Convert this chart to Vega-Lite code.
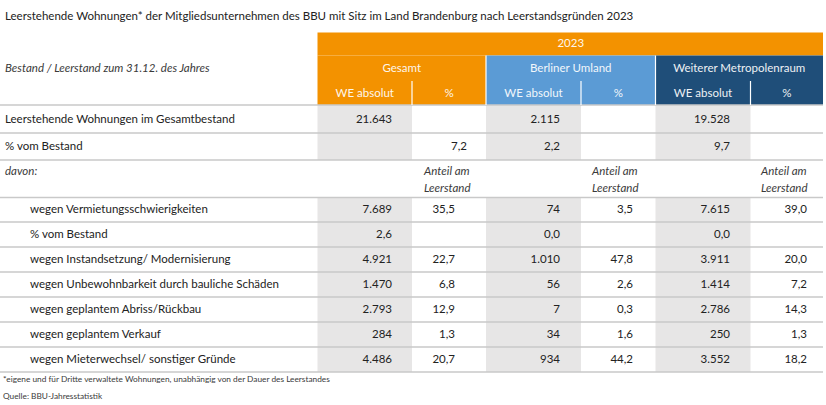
{
  "$schema": "https://vega.github.io/schema/vega-lite/v6.json",
  "width": 826,
  "height": 405,
  "padding": 0,
  "autosize": {"type": "none"},
  "background": "white",
  "config": {
    "view": {"stroke": null},
    "font": "Lato",
    "locale": {"number": {"decimal": ",", "thousands": ".", "grouping": [3], "currency": ["", " €"]}}
  },
  "datasets": {
    "blocks": [
      {"block": "2023", "x0": 0.5, "x1": 6.5, "y0": 0.5, "y1": 1.5},
      {"block": "Gesamt", "x0": 0.5, "x1": 2.5, "y0": 1.5, "y1": 3.5},
      {"block": "Berliner Umland", "x0": 2.5, "x1": 4.5, "y0": 1.5, "y1": 3.5},
      {"block": "Weiterer Metropolenraum", "x0": 4.5, "x1": 6.5, "y0": 1.5, "y1": 3.5},
      {"block": "WE absolut", "x0": 0.5, "x1": 1.5, "y0": 3.5, "y1": 5.5},
      {"block": "WE absolut", "x0": 2.5, "x1": 3.5, "y0": 3.5, "y1": 5.5},
      {"block": "WE absolut", "x0": 4.5, "x1": 5.5, "y0": 3.5, "y1": 5.5},
      {"block": "WE absolut", "x0": 0.5, "x1": 1.5, "y0": 7.5, "y1": 14.5},
      {"block": "WE absolut", "x0": 2.5, "x1": 3.5, "y0": 7.5, "y1": 14.5},
      {"block": "WE absolut", "x0": 4.5, "x1": 5.5, "y0": 7.5, "y1": 14.5}
    ],
    "hlines": [
      {"below": 3.5}, {"below": 4.5}, {"below": 5.5}, {"below": 7.5}, {"below": 8.5},
      {"below": 9.5}, {"below": 10.5}, {"below": 11.5}, {"below": 12.5}, {"below": 13.5}, {"below": 14.5}
    ],
    "vlines": [
      {"at": 1.5, "from": 2.5, "to": 3.5},
      {"at": 3.5, "from": 2.5, "to": 3.5},
      {"at": 5.5, "from": 2.5, "to": 3.5},
      {"at": 2.5, "from": 1.5, "to": 3.5},
      {"at": 4.5, "from": 1.5, "to": 3.5}
    ],
    "headers": [
      {"text": "2023", "col": 3.5, "row": 1},
      {"text": "Gesamt", "col": 1.5, "row": 2},
      {"text": "Berliner Umland", "col": 3.5, "row": 2},
      {"text": "Weiterer Metropolenraum", "col": 5.5, "row": 2},
      {"text": "WE absolut", "col": 1, "row": 3},
      {"text": "%", "col": 2, "row": 3},
      {"text": "WE absolut", "col": 3, "row": 3},
      {"text": "%", "col": 4, "row": 3},
      {"text": "WE absolut", "col": 5, "row": 3},
      {"text": "%", "col": 6, "row": 3}
    ],
    "stub": [
      {"text": "Leerstehende Wohnungen* der Mitgliedsunternehmen des BBU mit Sitz im Land Brandenburg nach Leerstandsgründen 2023", "row": 0, "level": 0, "kind": "title"},
      {"text": "Bestand / Leerstand zum 31.12. des Jahres", "row": 2, "level": 0, "kind": "note"},
      {"text": "Leerstehende Wohnungen im Gesamtbestand", "row": 4, "level": 0, "kind": "item"},
      {"text": "% vom Bestand", "row": 5, "level": 0, "kind": "item"},
      {"text": "davon:", "row": 6, "level": 0, "kind": "note"},
      {"text": "wegen Vermietungsschwierigkeiten", "row": 8, "level": 1, "kind": "item"},
      {"text": "% vom Bestand", "row": 9, "level": 1, "kind": "item"},
      {"text": "wegen Instandsetzung/ Modernisierung", "row": 10, "level": 1, "kind": "item"},
      {"text": "wegen Unbewohnbarkeit durch bauliche Schäden", "row": 11, "level": 1, "kind": "item"},
      {"text": "wegen geplantem Abriss/Rückbau", "row": 12, "level": 1, "kind": "item"},
      {"text": "wegen geplantem Verkauf", "row": 13, "level": 1, "kind": "item"},
      {"text": "wegen Mieterwechsel/ sonstiger Gründe", "row": 14, "level": 1, "kind": "item"},
      {"text": "*eigene und für Dritte verwaltete Wohnungen, unabhängig von der Dauer des Leerstandes", "row": 15, "level": 0, "kind": "footnote"},
      {"text": "Quelle: BBU-Jahresstatistik", "row": 16, "level": 0, "kind": "footnote"}
    ],
    "anteil": [
      {"text": "Anteil am", "row": 6, "col": 2},
      {"text": "Leerstand", "row": 7, "col": 2},
      {"text": "Anteil am", "row": 6, "col": 4},
      {"text": "Leerstand", "row": 7, "col": 4},
      {"text": "Anteil am", "row": 6, "col": 6},
      {"text": "Leerstand", "row": 7, "col": 6}
    ],
    "cells": [
      {"row": 4, "col": 1, "value": 21643, "unit": "WE"},
      {"row": 4, "col": 3, "value": 2115, "unit": "WE"},
      {"row": 4, "col": 5, "value": 19528, "unit": "WE"},
      {"row": 5, "col": 2, "value": 7.2, "unit": "%"},
      {"row": 5, "col": 3, "value": 2.2, "unit": "%"},
      {"row": 5, "col": 5, "value": 9.7, "unit": "%"},
      {"row": 8, "col": 1, "value": 7689, "unit": "WE"},
      {"row": 8, "col": 2, "value": 35.5, "unit": "%"},
      {"row": 8, "col": 3, "value": 74, "unit": "WE"},
      {"row": 8, "col": 4, "value": 3.5, "unit": "%"},
      {"row": 8, "col": 5, "value": 7615, "unit": "WE"},
      {"row": 8, "col": 6, "value": 39.0, "unit": "%"},
      {"row": 9, "col": 1, "value": 2.6, "unit": "%"},
      {"row": 9, "col": 3, "value": 0.0, "unit": "%"},
      {"row": 9, "col": 5, "value": 0.0, "unit": "%"},
      {"row": 10, "col": 1, "value": 4921, "unit": "WE"},
      {"row": 10, "col": 2, "value": 22.7, "unit": "%"},
      {"row": 10, "col": 3, "value": 1010, "unit": "WE"},
      {"row": 10, "col": 4, "value": 47.8, "unit": "%"},
      {"row": 10, "col": 5, "value": 3911, "unit": "WE"},
      {"row": 10, "col": 6, "value": 20.0, "unit": "%"},
      {"row": 11, "col": 1, "value": 1470, "unit": "WE"},
      {"row": 11, "col": 2, "value": 6.8, "unit": "%"},
      {"row": 11, "col": 3, "value": 56, "unit": "WE"},
      {"row": 11, "col": 4, "value": 2.6, "unit": "%"},
      {"row": 11, "col": 5, "value": 1414, "unit": "WE"},
      {"row": 11, "col": 6, "value": 7.2, "unit": "%"},
      {"row": 12, "col": 1, "value": 2793, "unit": "WE"},
      {"row": 12, "col": 2, "value": 12.9, "unit": "%"},
      {"row": 12, "col": 3, "value": 7, "unit": "WE"},
      {"row": 12, "col": 4, "value": 0.3, "unit": "%"},
      {"row": 12, "col": 5, "value": 2786, "unit": "WE"},
      {"row": 12, "col": 6, "value": 14.3, "unit": "%"},
      {"row": 13, "col": 1, "value": 284, "unit": "WE"},
      {"row": 13, "col": 2, "value": 1.3, "unit": "%"},
      {"row": 13, "col": 3, "value": 34, "unit": "WE"},
      {"row": 13, "col": 4, "value": 1.6, "unit": "%"},
      {"row": 13, "col": 5, "value": 250, "unit": "WE"},
      {"row": 13, "col": 6, "value": 1.3, "unit": "%"},
      {"row": 14, "col": 1, "value": 4486, "unit": "WE"},
      {"row": 14, "col": 2, "value": 20.7, "unit": "%"},
      {"row": 14, "col": 3, "value": 934, "unit": "WE"},
      {"row": 14, "col": 4, "value": 44.2, "unit": "%"},
      {"row": 14, "col": 5, "value": 3552, "unit": "WE"},
      {"row": 14, "col": 6, "value": 18.2, "unit": "%"}
    ]
  },
  "layer": [
    {
      "data": {"name": "blocks"},
      "mark": {"type": "rect", "strokeWidth": 0},
      "encoding": {
        "x": {"field": "x0", "type": "quantitative", "axis": null, "scale": {"domain": [-0.5, 0.5, 1.5, 2.5, 3.5, 4.5, 5.5, 6.5], "range": [0, 317.5, 412, 486, 581, 655.5, 750.5, 823], "nice": false, "zero": false}},
        "x2": {"field": "x1"},
        "y": {"field": "y0", "type": "quantitative", "axis": null, "scale": {"domain": [0.5, 1.5, 2.5, 3.5, 4.5, 5.5, 7.5, 8.5, 9.5, 10.5, 11.5, 12.5, 13.5, 14.5], "range": [32.5, 55.5, 81, 105, 133, 160, 197.5, 222, 247, 272, 297, 322, 347, 372], "nice": false, "zero": false}},
        "y2": {"field": "y1"},
        "color": {"field": "block", "type": "nominal", "legend": null, "scale": {"domain": ["2023", "Gesamt", "Berliner Umland", "Weiterer Metropolenraum", "WE absolut"], "range": ["#F39200", "#F39200", "#5B9BD5", "#1F4E79", "#E7E6E6"]}}
      }
    },
    {
      "data": {"name": "hlines"},
      "mark": {"type": "rule", "color": "#C9C9C9", "strokeWidth": 1.6},
      "encoding": {
        "x": {"datum": -0.5, "type": "quantitative", "axis": null, "scale": {"domain": [-0.5, 0.5, 1.5, 2.5, 3.5, 4.5, 5.5, 6.5], "range": [0, 317.5, 412, 486, 581, 655.5, 750.5, 823], "nice": false, "zero": false}},
        "x2": {"datum": 6.5},
        "y": {"field": "below", "type": "quantitative", "axis": null, "scale": {"domain": [0.5, 1.5, 2.5, 3.5, 4.5, 5.5, 7.5, 8.5, 9.5, 10.5, 11.5, 12.5, 13.5, 14.5], "range": [32.5, 55.5, 81, 105, 133, 160, 197.5, 222, 247, 272, 297, 322, 347, 372], "nice": false, "zero": false}}
      }
    },
    {
      "data": {"name": "vlines"},
      "mark": {"type": "rule", "color": "#FFFFFF", "strokeWidth": 1.2},
      "encoding": {
        "x": {"field": "at", "type": "quantitative", "axis": null, "scale": {"domain": [-0.5, 0.5, 1.5, 2.5, 3.5, 4.5, 5.5, 6.5], "range": [0, 317.5, 412, 486, 581, 655.5, 750.5, 823], "nice": false, "zero": false}},
        "y": {"field": "from", "type": "quantitative", "axis": null, "scale": {"domain": [0.5, 1.5, 2.5, 3.5, 4.5, 5.5, 7.5, 8.5, 9.5, 10.5, 11.5, 12.5, 13.5, 14.5], "range": [32.5, 55.5, 81, 105, 133, 160, 197.5, 222, 247, 272, 297, 322, 347, 372], "nice": false, "zero": false}},
        "y2": {"field": "to"}
      }
    },
    {
      "data": {"name": "headers"},
      "mark": {"type": "text", "align": "center", "baseline": "middle", "fontSize": 11.5, "color": "#FFFFFF", "opacity": 0.92},
      "encoding": {
        "x": {"field": "col", "type": "quantitative", "axis": null, "scale": {"domain": [1, 1.5, 2, 3, 3.5, 4, 5, 5.5, 6], "range": [364.75, 401.75, 449, 533.5, 570.75, 618.25, 703, 739.25, 786.75], "nice": false, "zero": false}},
        "y": {"field": "row", "type": "quantitative", "axis": null, "scale": {"domain": [0, 1, 2, 3, 4, 5, 6, 7, 8, 9, 10, 11, 12, 13, 14, 15, 16], "range": [17, 44, 68.5, 93.5, 119.5, 146.5, 171.5, 188.5, 210, 235, 260, 285, 310, 335, 360, 380, 397], "nice": false, "zero": false}},
        "text": {"field": "text"}
      }
    },
    {
      "data": {"name": "stub"},
      "transform": [{"filter": "datum.kind == 'title' || datum.kind == 'item'"}],
      "mark": {"type": "text", "align": "left", "baseline": "middle", "fontSize": 11.5, "color": "#222222"},
      "encoding": {
        "x": {"field": "level", "type": "quantitative", "axis": null, "scale": {"domain": [0, 1], "range": [5, 30], "nice": false, "zero": false}},
        "y": {"field": "row", "type": "quantitative", "axis": null, "scale": {"domain": [0, 1, 2, 3, 4, 5, 6, 7, 8, 9, 10, 11, 12, 13, 14, 15, 16], "range": [17, 44, 68.5, 93.5, 119.5, 146.5, 171.5, 188.5, 210, 235, 260, 285, 310, 335, 360, 380, 397], "nice": false, "zero": false}},
        "text": {"field": "text"}
      }
    },
    {
      "data": {"name": "stub"},
      "transform": [{"filter": "datum.kind == 'note'"}],
      "mark": {"type": "text", "align": "left", "baseline": "middle", "fontSize": 11.5, "fontStyle": "italic", "color": "#3A3A3A"},
      "encoding": {
        "x": {"field": "level", "type": "quantitative", "axis": null, "scale": {"domain": [0, 1], "range": [5, 30], "nice": false, "zero": false}},
        "y": {"field": "row", "type": "quantitative", "axis": null, "scale": {"domain": [0, 1, 2, 3, 4, 5, 6, 7, 8, 9, 10, 11, 12, 13, 14, 15, 16], "range": [17, 44, 68.5, 93.5, 119.5, 146.5, 171.5, 188.5, 210, 235, 260, 285, 310, 335, 360, 380, 397], "nice": false, "zero": false}},
        "text": {"field": "text"}
      }
    },
    {
      "data": {"name": "stub"},
      "transform": [{"filter": "datum.kind == 'footnote'"}],
      "mark": {"type": "text", "align": "left", "baseline": "middle", "fontSize": 8.3, "color": "#3A3A3A"},
      "encoding": {
        "x": {"field": "level", "type": "quantitative", "axis": null, "scale": {"domain": [0, 1], "range": [3, 28], "nice": false, "zero": false}},
        "y": {"field": "row", "type": "quantitative", "axis": null, "scale": {"domain": [0, 1, 2, 3, 4, 5, 6, 7, 8, 9, 10, 11, 12, 13, 14, 15, 16], "range": [17, 44, 68.5, 93.5, 119.5, 146.5, 171.5, 188.5, 210, 235, 260, 285, 310, 335, 360, 380, 397], "nice": false, "zero": false}},
        "text": {"field": "text"}
      }
    },
    {
      "data": {"name": "anteil"},
      "mark": {"type": "text", "align": "left", "baseline": "middle", "fontSize": 11.5, "fontStyle": "italic", "color": "#3A3A3A"},
      "encoding": {
        "x": {"field": "col", "type": "quantitative", "axis": null, "scale": {"domain": [2, 4, 6], "range": [424, 592, 761], "nice": false, "zero": false}},
        "y": {"field": "row", "type": "quantitative", "axis": null, "scale": {"domain": [0, 1, 2, 3, 4, 5, 6, 7, 8, 9, 10, 11, 12, 13, 14, 15, 16], "range": [17, 44, 68.5, 93.5, 119.5, 146.5, 171.5, 188.5, 210, 235, 260, 285, 310, 335, 360, 380, 397], "nice": false, "zero": false}},
        "text": {"field": "text"}
      }
    },
    {
      "data": {"name": "cells"},
      "transform": [{"filter": "datum.unit == 'WE'"}],
      "mark": {"type": "text", "align": "right", "baseline": "middle", "fontSize": 11.5, "color": "#222222"},
      "encoding": {
        "x": {"field": "col", "type": "quantitative", "axis": null, "scale": {"domain": [1, 2, 3, 4, 5, 6], "range": [392, 455, 560, 633, 730, 807], "nice": false, "zero": false}},
        "y": {"field": "row", "type": "quantitative", "axis": null, "scale": {"domain": [0, 1, 2, 3, 4, 5, 6, 7, 8, 9, 10, 11, 12, 13, 14, 15, 16], "range": [17, 44, 68.5, 93.5, 119.5, 146.5, 171.5, 188.5, 210, 235, 260, 285, 310, 335, 360, 380, 397], "nice": false, "zero": false}},
        "text": {"field": "value", "type": "quantitative", "format": ",.0f"}
      }
    },
    {
      "data": {"name": "cells"},
      "transform": [{"filter": "datum.unit == '%' && datum.row != 5"}],
      "mark": {"type": "text", "align": "right", "baseline": "middle", "fontSize": 11.5, "color": "#222222"},
      "encoding": {
        "x": {"field": "col", "type": "quantitative", "axis": null, "scale": {"domain": [1, 2, 3, 4, 5, 6], "range": [392, 455, 560, 633, 730, 807], "nice": false, "zero": false}},
        "y": {"field": "row", "type": "quantitative", "axis": null, "scale": {"domain": [0, 1, 2, 3, 4, 5, 6, 7, 8, 9, 10, 11, 12, 13, 14, 15, 16], "range": [17, 44, 68.5, 93.5, 119.5, 146.5, 171.5, 188.5, 210, 235, 260, 285, 310, 335, 360, 380, 397], "nice": false, "zero": false}},
        "text": {"field": "value", "type": "quantitative", "format": ".1f"}
      }
    },
    {
      "data": {"name": "cells"},
      "transform": [{"filter": "datum.unit == '%' && datum.row == 5"}],
      "mark": {"type": "text", "align": "right", "baseline": "middle", "fontSize": 11.5, "color": "#222222"},
      "encoding": {
        "x": {"field": "col", "type": "quantitative", "axis": null, "scale": {"domain": [1, 2, 3, 4, 5, 6], "range": [392, 467, 560, 633, 730, 807], "nice": false, "zero": false}},
        "y": {"field": "row", "type": "quantitative", "axis": null, "scale": {"domain": [0, 1, 2, 3, 4, 5, 6, 7, 8, 9, 10, 11, 12, 13, 14, 15, 16], "range": [17, 44, 68.5, 93.5, 119.5, 146.5, 171.5, 188.5, 210, 235, 260, 285, 310, 335, 360, 380, 397], "nice": false, "zero": false}},
        "text": {"field": "value", "type": "quantitative", "format": ".1f"}
      }
    }
  ],
  "resolve": {"scale": {"x": "independent", "y": "independent", "color": "independent"}}
}
